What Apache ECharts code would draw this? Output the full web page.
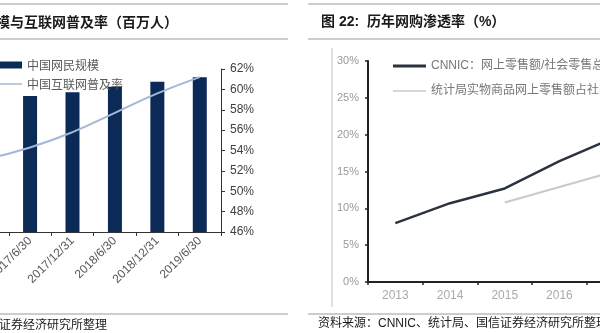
<!DOCTYPE html>
<html>
<head>
<meta charset="utf-8">
<script src="https://cdn.jsdelivr.net/npm/echarts@6/dist/echarts.min.js"></script>
<style>
html,body{margin:0;padding:0;background:#fff;overflow:hidden;width:600px;height:333px;position:relative;}
#main{position:absolute;left:-60px;top:0;width:720px;height:333px;}
</style>
</head>
<body>
<div id="main"></div>
<script>
// Left chart data
const dates = ['2016/12/31', '2017/6/30', '2017/12/31', '2018/6/30', '2018/12/31', '2019/6/30'];
const netizens = [731, 751, 772, 802, 829, 854];
const penetration = [53.2, 54.3, 55.8, 57.7, 59.6, 61.2];
const leftTicksMin = 46, leftTicksMax = 62, leftTicksStep = 2;

// Right chart data
const years = ['2013', '2014', '2015', '2016', '2017'];
const cnnicShare = [8.0, 10.7, 12.7, 16.4, 19.6];
const statsShare = [null, null, 10.8, 12.9, 15.0];
const rightTicksMin = 0, rightTicksMax = 30, rightTicksStep = 5;

const FONT = 'Liberation Sans, Noto Sans CJK SC, sans-serif';
const CJK = 'Noto Sans CJK SC, Liberation Sans, sans-serif';
const OFF = 60; // the chart canvas starts 60px left of the visible window

const chart = echarts.init(document.getElementById('main'));
const hline = (x1, x2, y) => ({type: 'line', silent: true, shape: {x1: x1 + OFF, y1: y, x2: x2 + OFF, y2: y}, style: {stroke: '#9a9a9a', lineWidth: 1}});
const label = (text, x, y, align, size, weight, family) => ({
  type: 'text', silent: true, x: x + OFF, y: y,
  style: {text: text, align: align, verticalAlign: 'middle', fontSize: size, fontWeight: weight, fill: '#1a1a1a', fontFamily: family}
});

chart.setOption({
  animation: false,
  backgroundColor: '#fff',
  graphic: [
    hline(0, 288, 4), hline(0, 288, 39), hline(0, 288, 314),
    hline(308, 640, 4), hline(308, 640, 39), hline(308, 640, 314),
    {type: 'line', silent: true, shape: {x1: OFF + 332, y1: 48, x2: OFF + 332, y2: 307}, style: {stroke: '#d6d6d6', lineWidth: 1.5}},
    label('模与互联网普及率（百万人）', 178, 22, 'right', 14, 'bold', CJK),
    label('图 22:  历年网购渗透率（%）', 321, 22, 'left', 14, 'bold', FONT),
    label('证券经济研究所整理', 107, 324, 'right', 12, 'normal', CJK),
    label('资料来源：CNNIC、统计局、国信证券经济研究所整理', 318, 324, 'left', 12, 'normal', FONT)
  ],
  legend: [
    {orient: 'vertical', left: OFF - 12, top: 59, itemWidth: 34, itemHeight: 7, itemGap: 7, padding: 0,
     data: [{name: '中国网民规模', icon: 'rect'}, {name: '中国互联网普及率', icon: 'path://M0,0H34V1.6H0Z'}],
     textStyle: {fontSize: 12, color: '#595959', fontFamily: CJK}},
    {orient: 'vertical', left: OFF + 393, top: 60, itemWidth: 33, itemHeight: 10, itemGap: 13, padding: 0,
     data: [{name: 'CNNIC：网上零售额/社会零售总额', icon: 'path://M0,0H33V3H0Z'},
            {name: '统计局实物商品网上零售额占社零比重', icon: 'path://M0,0H33V1.5H0Z'}],
     textStyle: {fontSize: 12, color: '#777', fontFamily: FONT}}
  ],
  grid: [
    {left: OFF - 48, top: 69, width: 269, height: 163},
    {left: OFF + 368, top: 61, width: 273.5, height: 221}
  ],
  xAxis: [
    {type: 'category', gridIndex: 0, data: dates, boundaryGap: true,
     axisLine: {lineStyle: {color: '#333', width: 1}},
     axisTick: {show: true, length: 4, lineStyle: {color: '#333'}},
     axisLabel: {rotate: 45, fontSize: 12, color: '#595959', margin: 7, fontFamily: FONT}},
    {type: 'category', gridIndex: 1, data: years, boundaryGap: true,
     axisLine: {lineStyle: {color: '#222', width: 2}},
     axisTick: {show: true, length: 3, lineStyle: {color: '#222', width: 1.5}},
     axisLabel: {fontSize: 12, color: '#aaa', margin: 8, fontFamily: FONT}}
  ],
  yAxis: [
    {type: 'value', gridIndex: 0, min: 0, max: 900, show: false, splitLine: {show: false}},
    {type: 'value', gridIndex: 0, position: 'right', min: leftTicksMin, max: leftTicksMax, interval: leftTicksStep,
     axisLine: {show: true, lineStyle: {color: '#333', width: 1}},
     axisTick: {show: true, length: 4, lineStyle: {color: '#333'}},
     splitLine: {show: false},
     axisLabel: {formatter: '{value}%', fontSize: 12, color: '#404040', margin: 9, fontFamily: FONT}},
    {type: 'value', gridIndex: 1, min: rightTicksMin, max: rightTicksMax, interval: rightTicksStep,
     axisLine: {show: true, lineStyle: {color: '#222', width: 2}},
     axisTick: {show: true, length: 3, lineStyle: {color: '#222', width: 1.5}},
     splitLine: {show: false},
     axisLabel: {formatter: '{value}%', fontSize: 11, color: '#999', margin: 9, fontFamily: FONT}}
  ],
  series: [
    {name: '中国网民规模', type: 'bar', xAxisIndex: 0, yAxisIndex: 0, data: netizens, barWidth: 14,
     itemStyle: {color: '#0c2a58'}},
    {name: '中国互联网普及率', type: 'line', xAxisIndex: 0, yAxisIndex: 1, data: penetration, smooth: true,
     symbol: 'none', lineStyle: {color: '#a2b7d6', width: 2}, itemStyle: {color: '#a2b7d6'}},
    {name: 'CNNIC：网上零售额/社会零售总额', type: 'line', xAxisIndex: 1, yAxisIndex: 2, data: cnnicShare,
     symbol: 'none', lineStyle: {color: '#2b3340', width: 2.5}, itemStyle: {color: '#2b3340'}},
    {name: '统计局实物商品网上零售额占社零比重', type: 'line', xAxisIndex: 1, yAxisIndex: 2, data: statsShare,
     symbol: 'none', lineStyle: {color: '#c9c9c9', width: 2}, itemStyle: {color: '#c9c9c9'}}
  ]
});
</script>
</body>
</html>
